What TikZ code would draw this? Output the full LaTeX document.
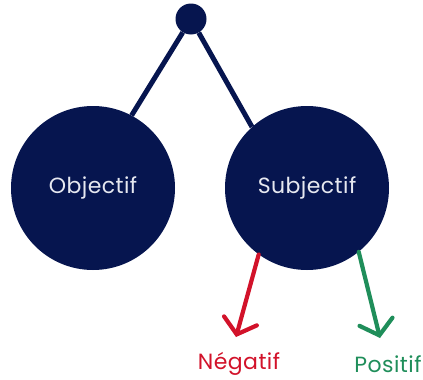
\documentclass[tikz,border=0pt]{standalone}
\usepackage{fontspec}
\setmainfont{Poppins}
\usetikzlibrary{arrows.meta}
\definecolor{navy}{HTML}{06154F}
\definecolor{negred}{HTML}{D2122A}
\definecolor{posgreen}{HTML}{1F8E5A}
\definecolor{lighttxt}{HTML}{E6E8F0}
\tikzset{
  big/.style={circle, fill=navy, minimum size=164pt, inner sep=0pt, text=lighttxt, font=\fontsize{22}{26}\selectfont\addfontfeature{LetterSpace=2}},
  dot/.style={circle, fill=navy, minimum size=31pt, inner sep=0pt},
  link/.style={draw=navy, line width=5pt},
  branch/.style={line width=4.2pt, line cap=round, line join=round, -{Straight Barb[length=14pt, width=34pt, line cap=round]}},
  lbl/.style={font=\fontsize{22}{26}\selectfont\addfontfeature{LetterSpace=2}}
}
\begin{document}
\begin{tikzpicture}[x=1pt, y=-1pt]
\useasboundingbox (0,0) rectangle (423,380);
\node[big] (obj) at (93,188) {Objectif};
\node[big] (subj) at (307,188) {Subjectif};
\node[dot] (top) at (191,19) {};
\draw[link] (top) -- (obj.62);
\draw[link] (top) -- (subj.132);
\coordinate (negtip) at (236,337);
\coordinate (postip) at (380,338);
\draw[branch, negred] (subj.-126) -- (negtip);
\draw[branch, posgreen] (subj.-51) -- (postip);
\node[lbl, text=negred] (neg) at (239,364) {Négatif};
\node[lbl, text=posgreen] (pos) at (388,364) {Positif};
\end{tikzpicture}
\end{document}
